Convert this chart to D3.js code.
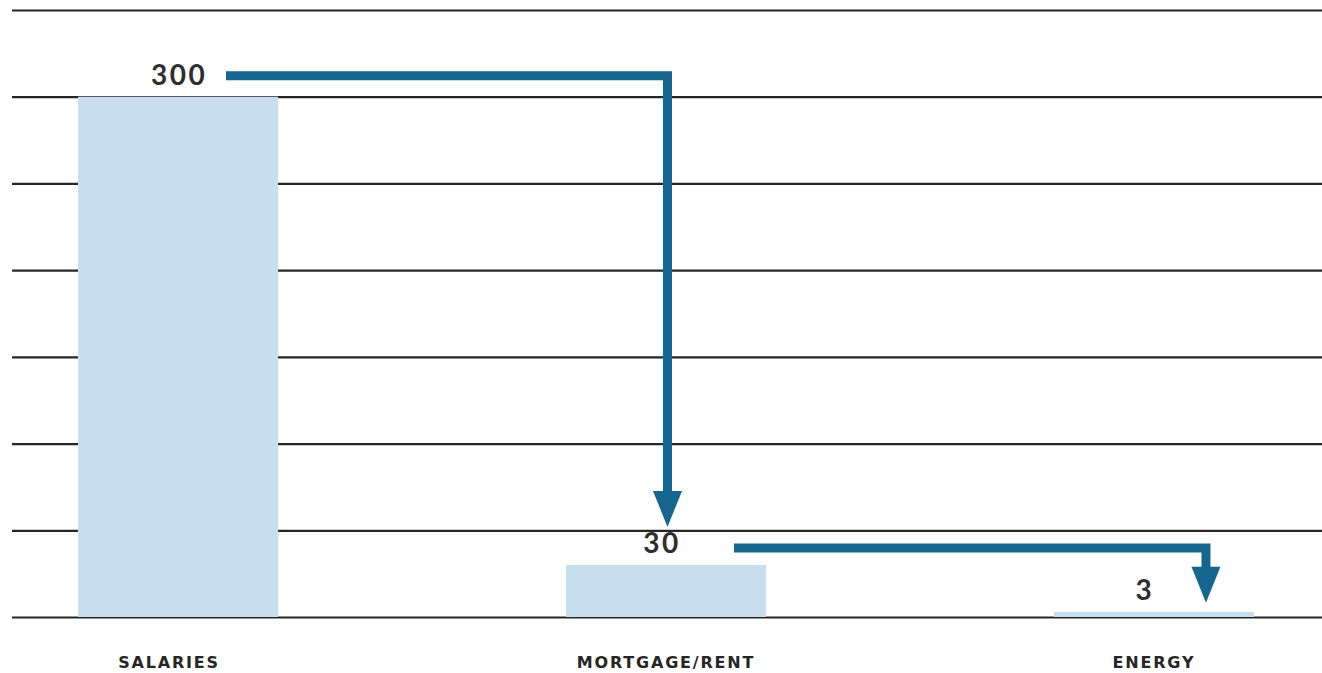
<!DOCTYPE html>
<html>
<head>
<meta charset="utf-8">
<script src="https://cdn.jsdelivr.net/npm/d3@7"></script>
<style>
  html, body { margin: 0; padding: 0; background: #fff; }
  svg { display: block; }
</style>
</head>
<body>
<svg id="chart" width="1322" height="673"></svg>
<script>
// ---- data ----
const categories = ["SALARIES", "MORTGAGE/RENT", "ENERGY"];
const values = [300, 30, 3];
const valueLabels = ["300", "30", "3"];
const gridTicks = [0, 50, 100, 150, 200, 250, 300, 350];

// ---- layout ----
const svg = d3.select("#chart");
const W = 1322, H = 673;
const barColor = "#c8ddee";
const arrowColor = "#17668f";
const gridColor = "#262626";

const y = d3.scaleLinear().domain([0, 350]).range([617, 10]);
const x = d3.scaleBand().domain(categories).range([78, 1254]).paddingInner(0.59).paddingOuter(0);
const bw = x.bandwidth();

// gridlines (axis-driven)
const grid = svg.append("g")
  .call(d3.axisLeft(y).tickValues(gridTicks).tickSize(-(W - 12)).tickFormat(""))
  .attr("transform", "translate(" + W + ",0) scale(-1,1)");
grid.select(".domain").remove();
grid.selectAll(".tick line").attr("stroke", gridColor).attr("stroke-width", 2.2);

// bars
svg.append("g").selectAll("rect").data(categories).join("rect")
  .attr("x", d => x(d))
  .attr("width", bw)
  .attr("y", (d, i) => y(values[i]))
  .attr("height", (d, i) => y(0) - y(values[i]))
  .attr("fill", barColor);

// value labels
const labelDx = [1, -4, -9];
svg.append("g").selectAll("text").data(categories).join("text")
  .attr("x", (d, i) => x(d) + bw / 2 + labelDx[i])
  .attr("y", (d, i) => y(values[i]) - 12)
  .attr("text-anchor", "middle")
  .attr("font-family", "Lato, 'Open Sans', sans-serif")
  .attr("font-size", 28)
  .attr("font-weight", "bold")
  .attr("letter-spacing", 2.5)
  .attr("fill", "#2e2e2e")
  .text((d, i) => valueLabels[i]);

// category labels
const catDx = [-9, 0, 0];
svg.append("g").selectAll("text").data(categories).join("text")
  .attr("x", (d, i) => x(d) + bw / 2 + catDx[i])
  .attr("y", y(0) + 51)
  .attr("text-anchor", "middle")
  .attr("font-family", "'DejaVu Sans', sans-serif")
  .attr("font-size", 16)
  .attr("font-weight", "bold")
  .attr("letter-spacing", 1.8)
  .attr("fill", "#262626")
  .text(d => d);

// arrows: from each value label to the next bar
function arrow(x0, yH, x1, yTip) {
  const head = 36, half = 14.5;
  svg.append("path")
    .attr("d", `M${x0},${yH} H${x1} V${yTip - head + 2}`)
    .attr("fill", "none")
    .attr("stroke", arrowColor)
    .attr("stroke-width", 9)
    .attr("stroke-linejoin", "miter");
  svg.append("path")
    .attr("d", `M${x1 - half},${yTip - head} L${x1 + half},${yTip - head} L${x1},${yTip} Z`)
    .attr("fill", arrowColor);
}
arrow(x(categories[0]) + 148, y(values[0]) - 21, x(categories[1]) + bw / 2 + 1.5, y(values[1]) - 38);
arrow(x(categories[1]) + 168, y(values[1]) - 17, x(categories[2]) + bw / 2 + 52, y(values[2]) - 9);
</script>
</body>
</html>
